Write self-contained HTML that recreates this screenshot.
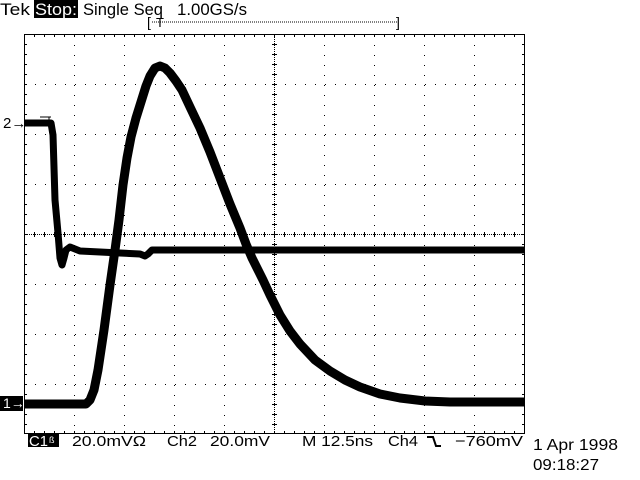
<!DOCTYPE html>
<html><head><meta charset="utf-8"><style>
html,body{margin:0;padding:0;background:#fff;}
svg{display:block;}
text{font-family:"Liberation Sans",sans-serif;fill:#000;}
</style></head><body>
<svg width="640" height="480" viewBox="0 0 640 480" xmlns="http://www.w3.org/2000/svg">
<rect width="640" height="480" fill="#fff"/>
<!-- header -->
<text x="0" y="15" font-size="17" textLength="30" lengthAdjust="spacingAndGlyphs">Tek</text>
<rect x="34" y="0" width="44" height="18" fill="#000"/>
<text x="35" y="15" font-size="17" style="fill:#fff" textLength="42" lengthAdjust="spacingAndGlyphs">Stop:</text>
<text x="83" y="15" font-size="17" textLength="80" lengthAdjust="spacingAndGlyphs">Single Seq</text>
<text x="177" y="15" font-size="17" textLength="70" lengthAdjust="spacingAndGlyphs">1.00GS/s</text>
<text x="147" y="27" font-size="14">[</text>
<text x="396" y="27" font-size="14">]</text>
<line x1="152" y1="22" x2="398" y2="22" stroke="#000" stroke-width="1" stroke-dasharray="1 1"/>
<text x="156" y="27" font-size="13">T</text>
<!-- grid -->
<g stroke="#000" stroke-width="1" fill="none">
<rect x="24.5" y="34.5" width="500" height="399"/>
<g stroke-dasharray="1 9">
<line x1="74.5" y1="35" x2="74.5" y2="434"/><line x1="124.5" y1="35" x2="124.5" y2="434"/>
<line x1="174.5" y1="35" x2="174.5" y2="434"/><line x1="224.5" y1="35" x2="224.5" y2="434"/>
<line x1="324.5" y1="35" x2="324.5" y2="434"/><line x1="374.5" y1="35" x2="374.5" y2="434"/>
<line x1="424.5" y1="35" x2="424.5" y2="434"/><line x1="474.5" y1="35" x2="474.5" y2="434"/>
<line x1="25" y1="84.5" x2="524" y2="84.5"/><line x1="25" y1="134.5" x2="524" y2="134.5"/>
<line x1="25" y1="184.5" x2="524" y2="184.5"/><line x1="25" y1="284.5" x2="524" y2="284.5"/>
<line x1="25" y1="334.5" x2="524" y2="334.5"/><line x1="25" y1="384.5" x2="524" y2="384.5"/>
</g>
<g stroke-dasharray="1 1">
<line x1="274.5" y1="35" x2="274.5" y2="434"/>
<line x1="25" y1="234.5" x2="524" y2="234.5"/>
</g>
</g>
<g stroke="#000" stroke-width="5" stroke-dasharray="1 9" fill="none">
<line x1="274.5" y1="34" x2="274.5" y2="434"/>
<line x1="24" y1="234.5" x2="524" y2="234.5"/>
</g>
<g stroke="#000" stroke-width="2" stroke-dasharray="1 9" fill="none">
<line x1="26" y1="34" x2="26" y2="434"/>
<line x1="523" y1="34" x2="523" y2="434"/>
<line x1="24" y1="36" x2="524" y2="36"/>
<line x1="24" y1="432" x2="524" y2="432"/>
</g>
<!-- ch2 trace -->
<polyline fill="none" stroke="#000" stroke-width="7" stroke-linejoin="round"
points="24,123 51,123 53,135 55,200 58,233 60,258 62,265 64,258 66,250 70,247 80,251 100,252 120,253 140,254 145,256 148,254 152,250 200,250 300,250 400,250 524,250"/>
<line x1="40" y1="117" x2="51" y2="117" stroke="#000" stroke-width="1"/>
<line x1="49" y1="117" x2="49" y2="121" stroke="#000" stroke-width="1"/>
<!-- ch1 trace -->
<polyline fill="none" stroke="#000" stroke-width="9" stroke-linejoin="round"
points="24,404 86,404 90,400 94,390 98,370 104,330 110,285 115,250 119,220 123,185 127,158 131,137 136,118 141,102 146,86 150,76 155,68 160,66 165,68 170,73 176,81 182,90 190,107 200,128 210,152 220,178 230,204 240,228 246,244 252,258 258,270 263,280 270,295 280,315 290,331 300,344 315,360 330,371 345,380 360,387 380,394 400,398 425,401 450,402 480,402 524,402"/>
<!-- markers -->
<text x="3" y="128" font-size="15">2→</text>
<rect x="0" y="396" width="23" height="15" fill="#000"/>
<text x="3" y="408" font-size="14" style="fill:#fff">1→</text>
<!-- footer -->
<rect x="28" y="434" width="31" height="13" fill="#000"/>
<text x="29" y="446" font-size="15" style="fill:#fff" textLength="19" lengthAdjust="spacingAndGlyphs">C1</text>
<text x="49" y="443" font-size="9" style="fill:#fff">ß</text>
<text x="72" y="446" font-size="15" textLength="74" lengthAdjust="spacingAndGlyphs">20.0mVΩ</text>
<text x="167" y="446" font-size="15" textLength="30" lengthAdjust="spacingAndGlyphs">Ch2</text>
<text x="210" y="446" font-size="15" textLength="60" lengthAdjust="spacingAndGlyphs">20.0mV</text>
<text x="302" y="446" font-size="15" textLength="71" lengthAdjust="spacingAndGlyphs">M 12.5ns</text>
<text x="388" y="446" font-size="15" textLength="30" lengthAdjust="spacingAndGlyphs">Ch4</text>
<path d="M427,437 L433,437 L436,446 L441,446" stroke="#000" stroke-width="2" fill="none"/>
<text x="455" y="446" font-size="15" textLength="68" lengthAdjust="spacingAndGlyphs">−760mV</text>
<text x="533" y="450" font-size="16" textLength="85" lengthAdjust="spacingAndGlyphs">1 Apr 1998</text>
<text x="533" y="470" font-size="16" textLength="66" lengthAdjust="spacingAndGlyphs">09:18:27</text>
</svg>
</body></html>
